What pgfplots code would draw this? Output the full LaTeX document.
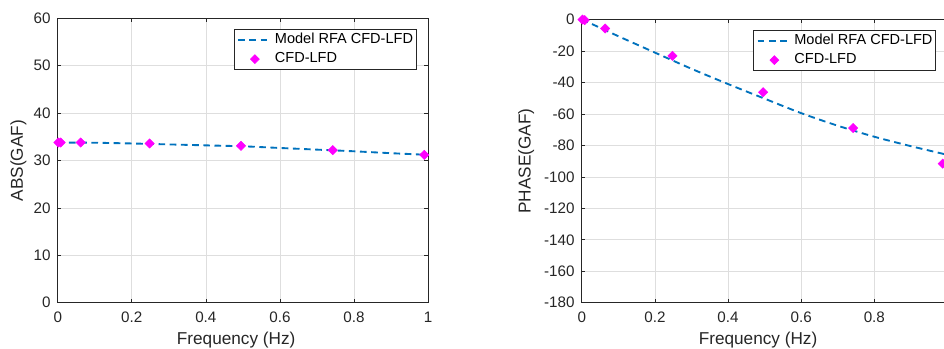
\documentclass[border=0pt]{standalone}
\usepackage{pgfplots}
\pgfplotsset{compat=1.18}
\usepackage{fontspec}
\setmainfont{Liberation Sans}
\definecolor{mblue}{rgb}{0,0.447,0.741}
\definecolor{mmag}{rgb}{1,0,1}
\definecolor{axgray}{rgb}{0.15,0.15,0.15}
\pgfplotsset{
 mystyle/.style={
  scale only axis,
  xmin=0,xmax=1,
  xtick={0,0.2,0.4,0.6,0.8,1},
  grid=major,
  major grid style={black!13, line width=0.5pt},
  axis line style={axgray, line width=0.5pt},
  tick style={axgray, line width=0.5pt},
  major tick length=2.8pt,
  tick align=inside,
  clip=false,
  ticklabel style={font=\fontsize{11.4}{13.5}\selectfont, text=axgray},
  label style={font=\fontsize{12.9}{15}\selectfont, text=axgray},
  /pgf/number format/assume math mode=true,
  yticklabel style={xshift=-1.9pt},
  xticklabel style={yshift=-3.6pt},
  legend cell align=left,
  legend style={font=\fontsize{10.9}{12.5}\selectfont, draw=axgray, line width=0.5pt,
     anchor=north east, inner xsep=2.5pt, inner ysep=2.6pt, row sep=3.75pt,
     nodes={inner sep=0pt, text height=8pt, text depth=2.5pt},
     /tikz/every odd column/.append style={column sep=2.8pt}},
  xlabel={Frequency (Hz)},
  xlabel style={at={(axis description cs:0.482,-0.131)}, anchor=center},
 },
 modelline/.style={mblue, line width=1.4pt, dash pattern=on 5pt off 3.4pt, smooth,
   legend image code/.code={\draw[##1] (0pt,0pt) -- (24pt,0pt);}},
 cfdmarks/.style={only marks, mark=square*, mark size=2.45pt, mark options={rotate=45, draw=mmag, fill=mmag}, color=mmag,
   legend image code/.code={\node[inner sep=0pt, minimum width=24pt, minimum height=0pt, anchor=west] at (0pt,0pt) {};
      \fill[mmag] (12.5pt,3.3pt) -- (9.2pt,0pt) -- (12.5pt,-3.3pt) -- (15.8pt,0pt) -- cycle;}},
}
\begin{document}
\begin{tikzpicture}
\useasboundingbox (0,0) rectangle (708pt,261.75pt);
\begin{scope}
\clip (0,0) rectangle (708pt,261.75pt);
\begin{axis}[mystyle,
  at={(43.3pt,34.7pt)}, anchor=south west,
  width=277.7pt, height=213.3pt,
  ymin=0, ymax=60, ytick={0,10,20,30,40,50,60},
  ylabel={ABS(GAF)},
  ylabel style={at={(axis description cs:-0.1064,0.5)}, anchor=center},
  legend style={at={(axis description cs:0.9695,0.9613)}},
]
\addplot[modelline] coordinates {
(0,33.8) (0.1,33.75) (0.2,33.6) (0.3,33.4) (0.4,33.2) (0.5,33.0) (0.6,32.65) (0.7,32.3) (0.8,31.95) (0.9,31.55) (1.0,31.2)};
\addlegendentry{Model RFA CFD-LFD\hspace{4pt}}
\addplot[cfdmarks] coordinates {
(0.002,33.8) (0.008,33.8) (0.062,33.8) (0.248,33.6) (0.495,33.1) (0.743,32.2) (0.99,31.2)};
\addlegendentry{CFD-LFD}
\end{axis}
\begin{axis}[mystyle,
  at={(436.3pt,34.7pt)}, anchor=south west,
  width=274.3pt, height=212.4pt,
  ymin=-180, ymax=0, ytick={-180,-160,-140,-120,-100,-80,-60,-40,-20,0},
  ylabel={PHASE(GAF)},
  ylabel style={at={(axis description cs:-0.152,0.5)}, anchor=center},
  legend style={at={(axis description cs:0.969,0.962)}},
]
\addplot[modelline] coordinates {
(0,0) (0.05,-5.2) (0.1,-10.6) (0.2,-21) (0.3,-31.3) (0.4,-41) (0.5,-50.3) (0.6,-59.5) (0.7,-67.5) (0.8,-74.5) (0.9,-80.5) (1.0,-86)};
\addlegendentry{Model RFA CFD-LFD\hspace{4pt}}
\addplot[cfdmarks] coordinates {
(0.002,0) (0.008,-0.4) (0.064,-5.7) (0.248,-23.1) (0.496,-46.2) (0.742,-69.0) (0.987,-91.6)};
\addlegendentry{CFD-LFD}
\end{axis}
\end{scope}
\end{tikzpicture}
\end{document}
